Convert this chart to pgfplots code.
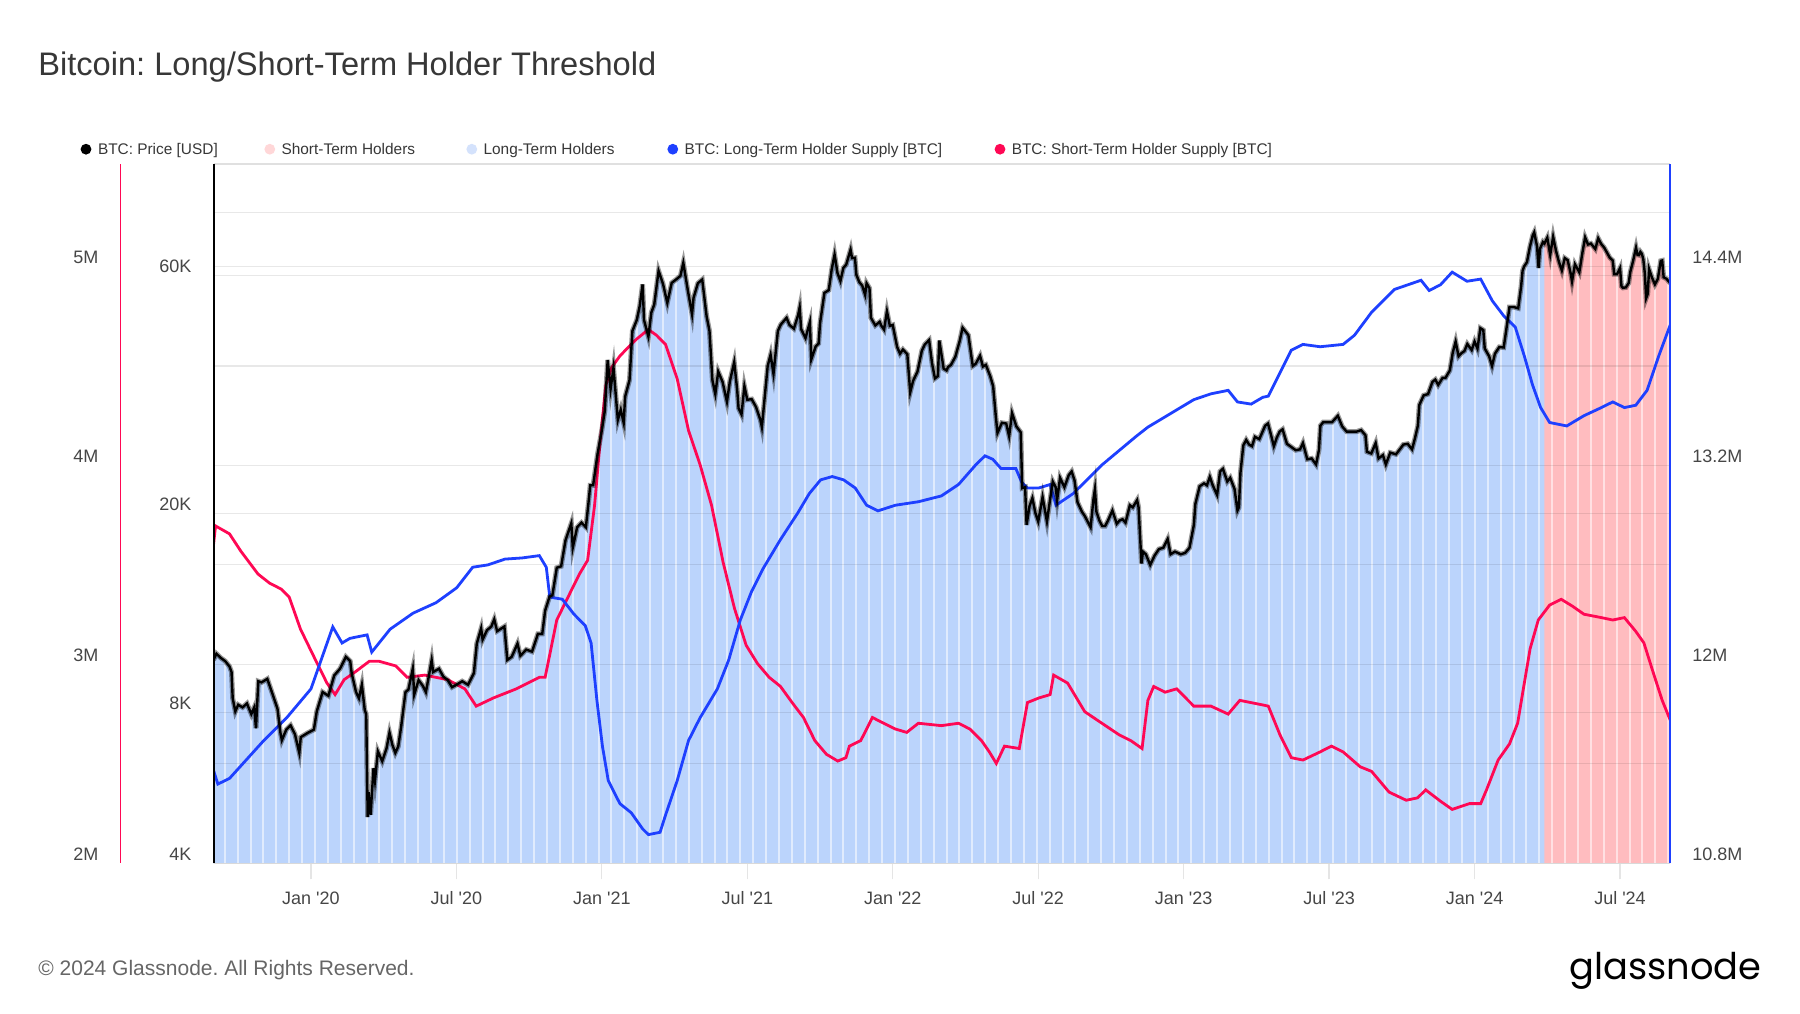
\documentclass[border=0pt]{standalone}
\usepackage{pgfplots}
\pgfplotsset{compat=1.18}
\usepackage{pgfplotstable}
\usepackage{graphicx}
\usepackage{fontspec}
\setmainfont{Liberation Sans}
\newfontfamily\logofont{Poppins}
\newcommand{\q}{\textquotesingle}
\frenchspacing

\definecolor{lthblue}{RGB}{30,64,255}
\definecolor{sthpink}{RGB}{255,8,84}
\definecolor{fillblue}{RGB}{187,212,252}
\definecolor{fillpink}{RGB}{255,188,191}
\definecolor{legpink}{RGB}{255,215,216}
\definecolor{legblue}{RGB}{212,226,252}
\definecolor{txtgray}{RGB}{55,55,55}
\definecolor{lblgray}{RGB}{70,70,70}

\pgfplotsset{
  baseax/.style={
    at={(106.75pt,-431.65pt)}, anchor=south west,
    width=728.35pt, height=349.55pt, scale only axis,
    xmin=2019.665, xmax=2024.6725,
    axis line style={draw=none},
    major tick length=0pt,
    clip=true,
  },
}
\tikzset{ylab/.style={font=\fontsize{9}{10.8}\selectfont, text=lblgray, inner sep=0pt}}

\pgfplotstableread{
yr price
2019.665 10200
2019.675 10500
2019.690 10300
2019.705 10150
2019.720 9900
2019.727 9650
2019.731 8550
2019.740 8050
2019.750 8300
2019.765 8200
2019.780 8350
2019.795 7950
2019.805 8200
2019.811 7450
2019.819 9250
2019.830 9200
2019.850 9350
2019.870 8650
2019.885 8150
2019.895 7300
2019.900 7050
2019.915 7400
2019.930 7550
2019.945 7250
2019.960 6650
2019.965 7150
2019.990 7300
2020.010 7400
2020.020 8050
2020.040 8800
2020.060 8650
2020.080 9500
2020.100 9800
2020.120 10350
2020.135 10150
2020.140 9600
2020.155 8800
2020.165 8550
2020.175 9100
2020.185 8100
2020.190 7950
2020.195 4950
2020.198 5550
2020.205 5000
2020.215 6200
2020.220 5850
2020.230 6700
2020.245 6400
2020.260 6800
2020.270 7300
2020.280 6900
2020.290 6650
2020.300 6850
2020.310 7500
2020.325 8800
2020.335 8900
2020.350 9800
2020.355 8700
2020.370 9300
2020.385 9050
2020.395 8800
2020.405 9450
2020.415 10200
2020.420 9650
2020.440 9800
2020.455 9450
2020.470 9300
2020.485 9000
2020.500 9100
2020.520 9250
2020.540 9100
2020.560 9600
2020.570 11000
2020.585 11800
2020.590 11200
2020.605 11700
2020.620 11900
2020.630 12300
2020.640 11650
2020.665 11900
2020.675 10200
2020.690 10350
2020.710 11000
2020.720 10400
2020.740 10700
2020.760 10600
2020.780 11500
2020.795 11500
2020.805 12800
2020.820 13650
2020.830 13750
2020.845 15600
2020.860 15700
2020.875 17700
2020.895 19150
2020.900 17100
2020.915 18800
2020.930 19200
2020.945 18800
2020.955 21300
2020.960 22800
2020.970 22800
2020.985 26300
2021.000 29400
2021.010 32100
2021.020 40600
2021.030 35500
2021.040 39200
2021.055 30800
2021.065 32300
2021.075 30400
2021.080 34300
2021.095 37000
2021.105 46400
2021.120 48800
2021.130 52000
2021.140 57500
2021.145 48800
2021.160 45200
2021.170 50500
2021.180 52400
2021.195 61200
2021.210 57700
2021.225 52800
2021.240 57900
2021.255 58800
2021.270 59800
2021.280 63500
2021.295 56200
2021.310 50100
2021.315 54000
2021.330 57800
2021.345 58800
2021.360 49700
2021.370 46400
2021.380 37000
2021.390 34700
2021.400 38500
2021.415 36700
2021.430 33500
2021.440 36800
2021.455 40200
2021.465 35500
2021.470 32500
2021.480 31600
2021.490 36000
2021.500 33800
2021.515 33900
2021.530 32700
2021.545 30800
2021.550 29800
2021.560 34300
2021.570 39500
2021.580 41600
2021.590 38100
2021.605 46400
2021.615 47800
2021.635 49300
2021.645 47700
2021.660 46900
2021.675 50000
2021.680 51700
2021.685 46800
2021.700 44900
2021.715 48300
2021.720 40700
2021.735 43200
2021.745 43800
2021.750 48100
2021.765 55300
2021.780 56000
2021.790 61600
2021.800 66000
2021.810 60600
2021.820 58400
2021.830 62000
2021.840 63000
2021.855 67500
2021.860 64900
2021.870 65000
2021.875 60100
2021.885 58100
2021.895 57200
2021.905 54800
2021.910 57800
2021.920 56500
2021.925 49300
2021.940 47600
2021.955 48400
2021.960 47600
2021.970 46700
2021.980 50800
2021.990 47500
2022.000 47700
2022.015 43100
2022.025 41800
2022.035 42600
2022.050 41700
2022.060 35000
2022.070 36900
2022.085 38500
2022.100 42400
2022.110 43600
2022.125 44500
2022.135 40000
2022.145 37300
2022.155 37700
2022.160 44400
2022.175 39000
2022.185 38700
2022.190 39300
2022.200 39700
2022.215 41200
2022.230 44300
2022.240 47100
2022.250 46300
2022.260 45500
2022.275 39500
2022.285 39900
2022.300 41400
2022.310 39400
2022.320 39700
2022.335 37700
2022.345 36000
2022.355 31000
2022.360 29000
2022.375 30400
2022.390 30300
2022.400 28600
2022.410 31800
2022.425 29900
2022.440 29100
2022.445 22500
2022.455 22600
2022.460 19000
2022.470 20700
2022.480 21500
2022.490 20100
2022.500 19300
2022.515 21600
2022.530 19300
2022.540 21200
2022.550 23200
2022.560 22600
2022.565 21300
2022.575 23600
2022.590 22600
2022.605 23900
2022.615 24300
2022.625 23300
2022.635 21100
2022.650 20200
2022.660 19800
2022.680 18800
2022.690 21400
2022.695 22400
2022.700 20200
2022.710 19400
2022.720 18900
2022.730 18900
2022.740 19400
2022.755 20300
2022.770 19100
2022.780 19400
2022.790 19500
2022.800 19200
2022.815 20800
2022.825 20600
2022.840 21300
2022.845 20600
2022.855 15900
2022.860 16800
2022.870 16600
2022.885 15800
2022.900 16500
2022.915 17000
2022.930 17100
2022.945 17800
2022.955 16600
2022.970 16800
2022.990 16600
2023.005 16700
2023.020 17100
2023.035 19000
2023.040 20900
2023.055 22700
2023.070 23000
2023.080 22800
2023.090 23700
2023.100 22800
2023.115 21800
2023.125 24300
2023.135 24600
2023.150 23200
2023.160 23600
2023.175 22400
2023.185 20300
2023.190 20600
2023.195 24100
2023.205 27400
2023.215 28100
2023.225 27500
2023.235 27300
2023.245 28500
2023.260 28200
2023.280 30000
2023.290 30300
2023.300 28800
2023.310 27300
2023.320 28400
2023.330 29200
2023.340 29500
2023.355 27600
2023.370 27200
2023.385 26800
2023.400 26900
2023.410 27700
2023.425 25700
2023.440 25800
2023.455 25100
2023.465 26800
2023.470 30000
2023.480 30500
2023.495 30500
2023.510 30500
2023.530 31400
2023.545 29900
2023.560 29200
2023.580 29200
2023.595 29200
2023.610 29400
2023.625 28700
2023.630 26600
2023.645 26400
2023.660 27700
2023.670 25800
2023.685 26200
2023.695 25100
2023.710 26500
2023.730 26300
2023.745 27000
2023.755 27500
2023.770 27600
2023.785 26900
2023.795 28300
2023.805 30000
2023.810 33000
2023.825 34500
2023.840 34700
2023.855 36700
2023.865 37100
2023.875 36200
2023.890 37400
2023.900 37400
2023.915 38700
2023.925 42000
2023.935 44200
2023.945 41300
2023.955 41900
2023.965 42300
2023.975 43700
2023.990 42500
2024.000 44200
2024.010 42800
2024.020 47000
2024.030 46600
2024.035 42800
2024.050 41300
2024.060 39500
2024.070 41800
2024.085 43100
2024.100 43000
2024.110 47100
2024.120 51800
2024.135 51800
2024.150 51500
2024.160 57000
2024.165 61200
2024.170 62400
2024.180 63700
2024.190 68300
2024.200 72100
2024.205 73100
2024.215 68400
2024.220 62000
2024.225 67800
2024.235 69900
2024.240 69400
2024.250 71300
2024.260 65900
2024.270 71600
2024.280 67100
2024.290 63800
2024.300 61300
2024.310 64900
2024.320 64300
2024.330 60600
2024.335 58300
2024.345 63100
2024.360 60800
2024.370 66200
2024.380 71400
2024.390 69100
2024.400 69400
2024.415 67700
2024.425 71100
2024.435 69300
2024.445 68200
2024.455 66600
2024.465 65000
2024.475 64200
2024.480 60300
2024.490 60300
2024.500 62000
2024.505 57000
2024.510 56600
2024.520 56700
2024.530 57900
2024.535 60800
2024.545 64100
2024.555 68100
2024.560 65900
2024.565 65800
2024.570 66800
2024.575 66200
2024.580 64600
2024.585 60700
2024.590 54000
2024.595 55000
2024.600 61700
2024.610 59300
2024.620 57500
2024.630 59000
2024.640 64100
2024.645 64200
2024.650 59400
2024.660 59000
2024.6725 57800
}\pricetable

\pgfplotstableread{
yr lth
2019.665 11.361
2019.680 11.278
2019.720 11.312
2019.838 11.541
2019.917 11.679
2020.000 11.852
2020.075 12.226
2020.107 12.129
2020.134 12.157
2020.193 12.178
2020.209 12.074
2020.272 12.212
2020.351 12.309
2020.430 12.372
2020.501 12.462
2020.556 12.586
2020.608 12.600
2020.667 12.635
2020.726 12.642
2020.785 12.656
2020.809 12.586
2020.821 12.406
2020.864 12.393
2020.904 12.303
2020.943 12.233
2020.963 12.129
2020.983 11.783
2021.002 11.506
2021.022 11.299
2021.062 11.160
2021.101 11.105
2021.140 11.008
2021.160 10.973
2021.200 10.987
2021.219 11.091
2021.259 11.299
2021.298 11.541
2021.338 11.679
2021.397 11.852
2021.436 12.026
2021.476 12.268
2021.515 12.441
2021.555 12.580
2021.614 12.753
2021.673 12.912
2021.713 13.030
2021.752 13.113
2021.792 13.133
2021.831 13.113
2021.871 13.064
2021.910 12.960
2021.949 12.926
2022.009 12.960
2022.088 12.981
2022.167 13.016
2022.226 13.085
2022.285 13.203
2022.317 13.258
2022.344 13.237
2022.372 13.182
2022.423 13.182
2022.443 13.099
2022.463 13.064
2022.502 13.064
2022.541 13.085
2022.561 12.960
2022.620 13.030
2022.719 13.203
2022.837 13.376
2022.877 13.431
2022.956 13.514
2023.035 13.597
2023.094 13.632
2023.153 13.653
2023.185 13.583
2023.232 13.570
2023.272 13.611
2023.291 13.618
2023.370 13.895
2023.410 13.930
2023.469 13.916
2023.548 13.930
2023.587 13.985
2023.646 14.124
2023.725 14.262
2023.816 14.317
2023.844 14.255
2023.883 14.290
2023.923 14.366
2023.974 14.311
2024.021 14.324
2024.061 14.193
2024.100 14.103
2024.140 14.034
2024.171 13.860
2024.199 13.687
2024.227 13.549
2024.258 13.459
2024.317 13.438
2024.376 13.500
2024.436 13.549
2024.475 13.583
2024.515 13.549
2024.554 13.563
2024.593 13.653
2024.633 13.860
2024.6725 14.047
}\lthtable

\pgfplotstableread{
yr sth
2019.665 3.600
2019.672 3.696
2019.720 3.656
2019.759 3.569
2019.818 3.454
2019.858 3.408
2019.897 3.379
2019.925 3.339
2019.964 3.177
2020.016 3.021
2020.055 2.906
2020.083 2.848
2020.114 2.923
2020.154 2.964
2020.201 3.016
2020.233 3.016
2020.292 2.992
2020.331 2.935
2020.391 2.946
2020.470 2.923
2020.529 2.877
2020.568 2.790
2020.627 2.831
2020.706 2.877
2020.785 2.935
2020.805 2.935
2020.817 3.021
2020.845 3.223
2020.884 3.339
2020.923 3.454
2020.951 3.523
2020.975 3.800
2020.994 4.118
2021.014 4.406
2021.034 4.493
2021.062 4.550
2021.093 4.597
2021.121 4.637
2021.160 4.683
2021.188 4.654
2021.219 4.608
2021.259 4.435
2021.298 4.175
2021.338 4.002
2021.377 3.800
2021.417 3.512
2021.456 3.281
2021.496 3.096
2021.535 3.004
2021.575 2.935
2021.614 2.889
2021.654 2.808
2021.693 2.733
2021.732 2.617
2021.772 2.548
2021.811 2.514
2021.839 2.531
2021.851 2.589
2021.890 2.617
2021.930 2.733
2021.969 2.704
2022.009 2.675
2022.048 2.658
2022.088 2.704
2022.167 2.692
2022.226 2.704
2022.265 2.675
2022.305 2.617
2022.332 2.560
2022.356 2.502
2022.384 2.589
2022.435 2.577
2022.463 2.808
2022.502 2.831
2022.541 2.848
2022.553 2.946
2022.601 2.906
2022.660 2.762
2022.719 2.704
2022.778 2.646
2022.818 2.617
2022.857 2.577
2022.877 2.819
2022.897 2.889
2022.936 2.860
2022.976 2.877
2023.035 2.790
2023.094 2.790
2023.153 2.750
2023.193 2.819
2023.272 2.796
2023.291 2.790
2023.331 2.646
2023.370 2.531
2023.410 2.519
2023.469 2.560
2023.508 2.589
2023.548 2.560
2023.607 2.485
2023.646 2.462
2023.706 2.358
2023.765 2.317
2023.804 2.329
2023.832 2.369
2023.883 2.312
2023.923 2.271
2023.982 2.300
2024.021 2.300
2024.041 2.369
2024.081 2.519
2024.120 2.600
2024.148 2.704
2024.171 2.906
2024.191 3.079
2024.219 3.223
2024.258 3.298
2024.298 3.327
2024.337 3.292
2024.376 3.252
2024.436 3.235
2024.475 3.223
2024.515 3.235
2024.554 3.166
2024.582 3.108
2024.613 2.964
2024.645 2.819
2024.6725 2.720
}\sthtable

\begin{document}
\begin{tikzpicture}
\fill[white] (0pt,0pt) rectangle (900pt,-506.5pt);
% fills under the price
\begin{axis}[baseax, ymode=log, ymin=4000, ymax=100000, xtick=\empty, ytick=\empty]
  \addplot[fill=fillblue, draw=none, forget plot, restrict x to domain=2019.6:2024.2505] table[x=yr,y=price]{\pricetable} \closedcycle;
  \addplot[fill=fillpink, draw=none, forget plot, restrict x to domain=2024.2495:2024.7] table[x=yr,y=price]{\pricetable} \closedcycle;
\end{axis}
% bar gaps, price grid and price labels
\begin{axis}[baseax, ymode=log, ymin=4000, ymax=100000,
  xtick={2019.704,2019.74825,...,2024.67}, xticklabels={},
  xmajorgrids, x grid style={white, opacity=0.55, line width=1pt},
  ytick={4000,8000,20000,60000}, yticklabels={4K,8K,20K,60K},
  extra y ticks={80000}, extra y tick labels={}, extra y tick style={grid=major},
  ymajorgrids, y grid style={black, opacity=0.09, line width=0.6pt},
  yticklabel style={ylab, anchor=east, xshift=-10.85pt, yshift=4.6pt},
]
  \addplot[draw=none, forget plot] coordinates {(2020,10000)};
\end{axis}
% short-term holder supply
\begin{axis}[baseax, ymin=2, ymax=5.514, xtick=\empty,
  ytick={2,3,4,5}, yticklabels={2M,3M,4M,5M},
  extra y ticks={2.5,3.5,4.5}, extra y tick labels={}, extra y tick style={grid=major},
  ymajorgrids, y grid style={black, opacity=0.09, line width=0.6pt},
  yticklabel style={ylab, anchor=east, xshift=-57.35pt, yshift=4.6pt},
]
  \addplot[sthpink, line width=1.4pt] table[x=yr,y=sth]{\sthtable};
\end{axis}
% long-term holder supply
\begin{axis}[baseax, ymin=10.8, ymax=15.017, xtick=\empty, yticklabel pos=right,
  ytick={10.8,12,13.2,14.4}, yticklabels={10.8M,12M,13.2M,14.4M},
  yticklabel style={ylab, anchor=west, xshift=10.9pt, yshift=4.6pt},
]
  \addplot[lthblue, line width=1.4pt] table[x=yr,y=lth]{\lthtable};
\end{axis}
% price line and date axis
\begin{axis}[baseax, ymode=log, ymin=4000, ymax=100000, ytick=\empty,
  xtick={2020,2020.5,...,2024.5},
  xticklabels={Jan \q20,Jul \q20,Jan \q21,Jul \q21,Jan \q22,Jul \q22,Jan \q23,Jul \q23,Jan \q24,Jul \q24},
  xtick pos=bottom, tick align=outside, major tick length=8pt,
  x tick style={draw=black!10, line width=0.6pt},
  xticklabel style={font=\fontsize{9}{10.8}\selectfont, text=lblgray, inner sep=0pt, anchor=base, yshift=-12.4pt},
]
  \addplot[black, opacity=0.4, line width=2.5pt] table[x=yr,y=price]{\pricetable};
  \addplot[black, line width=1.2pt] table[x=yr,y=price]{\pricetable};
\end{axis}
% frame lines
\draw[black!12, line width=0.8pt] (106.75pt,-82.1pt) -- (835.1pt,-82.1pt);
\draw[black!15, line width=0.8pt] (106.75pt,-431.65pt) -- (835.1pt,-431.65pt);
\draw[black, line width=1pt] (106.75pt,-82.1pt) -- (106.75pt,-431.65pt);
\draw[lthblue, line width=0.8pt] (835.1pt,-82.1pt) -- (835.1pt,-431.65pt);
\draw[sthpink, line width=0.8pt] (60.25pt,-82.1pt) -- (60.25pt,-431.65pt);
% title
\node[anchor=base west, inner sep=0pt, text=txtgray, font=\fontsize{16.3}{19.5}\selectfont] at (19pt,-37.8pt) {Bitcoin: Long/Short-Term Holder Threshold};
% legend
\begin{scope}[every node/.style={anchor=base west, inner sep=0pt, text=txtgray, font=\fontsize{7.7}{9}\selectfont}]
\fill[black] (43.0pt,-74.6pt) circle (2.7pt);
\node at (48.8pt,-77.3pt) {BTC: Price [USD]};
\fill[legpink] (134.9pt,-74.6pt) circle (2.7pt);
\node at (140.6pt,-77.3pt) {Short-Term Holders};
\fill[legblue] (235.9pt,-74.6pt) circle (2.7pt);
\node at (241.6pt,-77.3pt) {Long-Term Holders};
\fill[lthblue] (336.4pt,-74.6pt) circle (2.7pt);
\node at (342.1pt,-77.3pt) {BTC: Long-Term Holder Supply [BTC]};
\fill[sthpink] (500.0pt,-74.6pt) circle (2.7pt);
\node at (505.7pt,-77.3pt) {BTC: Short-Term Holder Supply [BTC]};
\end{scope}
% footer
\node[anchor=base west, inner sep=0pt, text=black!60, font=\fontsize{10.5}{12.6}\selectfont] at (19pt,-487.7pt) {© 2024 Glassnode. All Rights Reserved.};
\node[anchor=base east, inner sep=0pt] at (881pt,-489.6pt) {\resizebox{96pt}{!}{\logofont glassnode}};
\end{tikzpicture}
\end{document}
